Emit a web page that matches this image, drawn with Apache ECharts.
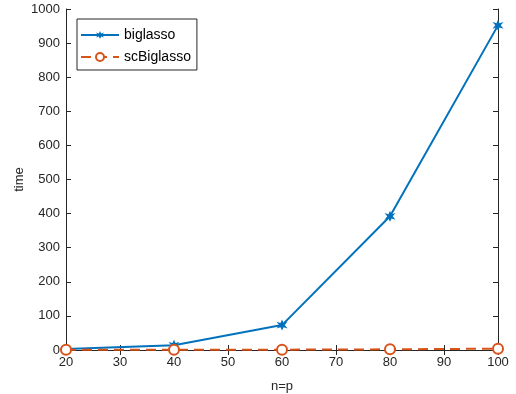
<!DOCTYPE html>
<html>
<head>
<meta charset="utf-8">
<script src="https://cdn.jsdelivr.net/npm/echarts@6/dist/echarts.min.js"></script>
<style>
  html, body { margin: 0; padding: 0; background: #fff; }
  #chart { width: 516px; height: 394px; }
</style>
</head>
<body>
<div id="chart"></div>
<script>
var n = [20, 40, 60, 80, 100];
var biglasso = [3, 14, 73, 392, 952];
var scBiglasso = [1, 0.5, 1, 2, 4];
var xTicks = [20, 30, 40, 50, 60, 70, 80, 90, 100];
var yTicks = [0, 100, 200, 300, 400, 500, 600, 700, 800, 900, 1000];

var axisColor = '#262626';
var font = 'Liberation Sans';
var star = 'path://M0,-10L2.5,-4L9,-6L4.5,0L9,6L2.5,4L0,10L-2.5,4L-9,6L-4.5,0L-9,-6L-2.5,-4Z';

function pair(arr) {
    return arr.map(function (v, i) { return [n[i], v]; });
}

var myChart = echarts.init(document.getElementById('chart'));

var baseX = {
    type: 'value', min: xTicks[0], max: xTicks[xTicks.length - 1], interval: 10,
    axisLine: { lineStyle: { color: axisColor, width: 1 } },
    axisTick: { inside: true, length: 5, lineStyle: { color: axisColor } },
    splitLine: { show: false }
};
var baseY = {
    type: 'value', min: yTicks[0], max: yTicks[yTicks.length - 1], interval: 100,
    axisLine: { show: true, lineStyle: { color: axisColor, width: 1 } },
    axisTick: { show: true, inside: true, length: 5, lineStyle: { color: axisColor } },
    splitLine: { show: false }
};

var option = {
    animation: false,
    textStyle: { fontFamily: font },
    grid: { left: 66, right: 18, top: 9, bottom: 44, containLabel: false, outerBoundsMode: 'none' },
    legend: {
        left: 77, top: 19,
        orient: 'vertical',
        itemWidth: 38, itemHeight: 10, itemGap: 8,
        padding: [9, 6, 6, 3],
        borderColor: axisColor, borderWidth: 1,
        backgroundColor: '#fff',
        textStyle: { fontSize: 14, color: '#000', fontFamily: font },
        data: ['biglasso', 'scBiglasso']
    },
    xAxis: [
        Object.assign({}, baseX, {
            position: 'bottom',
            name: 'n=p', nameLocation: 'middle', nameGap: 30, nameMoveOverlap: false,
            nameTextStyle: { fontSize: 13, color: axisColor },
            axisLabel: { fontSize: 13, color: axisColor, margin: 6 }
        }),
        Object.assign({}, baseX, { position: 'top', axisLabel: { show: false } })
    ],
    yAxis: [
        Object.assign({}, baseY, {
            position: 'left',
            name: 'time', nameLocation: 'middle', nameGap: 40, nameMoveOverlap: false,
            nameTextStyle: { fontSize: 13, color: axisColor },
            axisLabel: { fontSize: 13, color: axisColor, margin: 6, formatter: function (v) { return String(v); } }
        }),
        Object.assign({}, baseY, { position: 'right', axisLabel: { show: false } })
    ],
    series: [
        {
            name: 'biglasso', type: 'line',
            data: pair(biglasso),
            clip: false,
            symbol: star, symbolSize: 11,
            lineStyle: { width: 2, color: '#0072BD' },
            itemStyle: { color: '#0072BD' }
        },
        {
            name: 'scBiglasso', type: 'line',
            data: pair(scBiglasso),
            clip: false,
            symbol: 'emptyCircle', symbolSize: 10,
            lineStyle: { width: 2, type: [10, 6], color: '#D95319' },
            itemStyle: { color: '#D95319', borderColor: '#D95319', borderWidth: 2 }
        }
    ]
};

myChart.setOption(option);
</script>
</body>
</html>
